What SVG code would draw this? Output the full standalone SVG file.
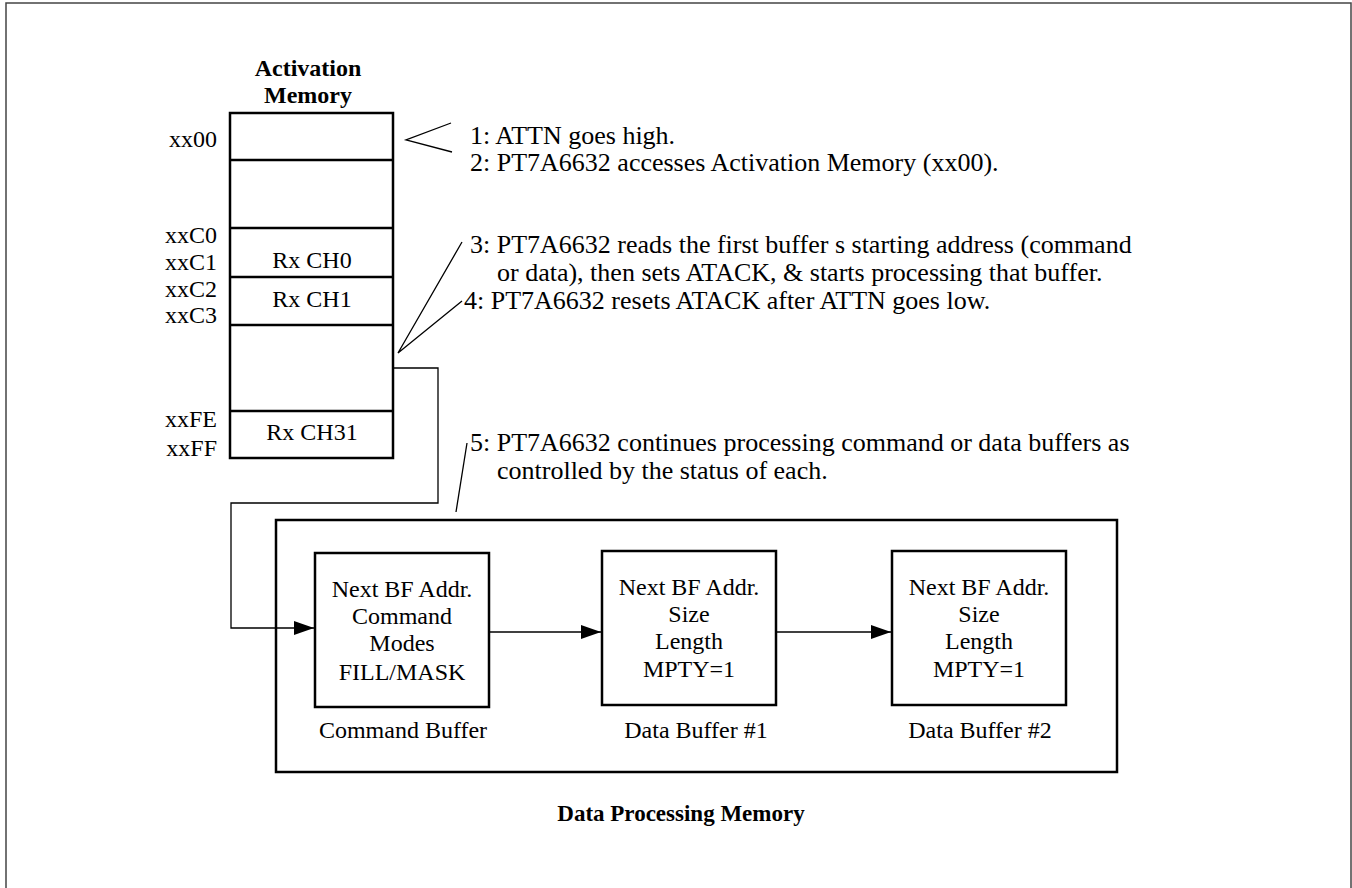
<svg xmlns="http://www.w3.org/2000/svg" width="1352" height="888" viewBox="0 0 1352 888">
<defs>
<marker id="arr" markerWidth="20" markerHeight="14" refX="20" refY="7" orient="auto" markerUnits="userSpaceOnUse">
<path d="M0,0 L20,7 L0,14 Z" fill="#000"/>
</marker>
<style>
text{font-family:"Liberation Serif","Times New Roman",serif;fill:#000}
.t24{font-size:24px}
.t26{font-size:26px}
.b{font-weight:bold;font-size:24px}
.mid{text-anchor:middle}
.end{text-anchor:end}
.thick{fill:none;stroke:#000;stroke-width:2.5}
.thin{fill:none;stroke:#000;stroke-width:1.3}
</style>
</defs>
<rect x="6" y="3" width="1345" height="900" fill="#fff" stroke="#444" stroke-width="1.5"/>

<g id="activation-memory">
<text class="b mid" x="308" y="76">Activation</text>
<text class="b mid" x="308" y="103">Memory</text>
<rect class="thick" x="230" y="113" width="163" height="345"/>
<line class="thick" x1="230" y1="160" x2="393" y2="160"/>
<line class="thick" x1="230" y1="228" x2="393" y2="228"/>
<line class="thick" x1="230" y1="277" x2="393" y2="277"/>
<line class="thick" x1="230" y1="325" x2="393" y2="325"/>
<line class="thick" x1="230" y1="411" x2="393" y2="411"/>
<text class="t24 end" x="217" y="147">xx00</text>
<text class="t24 end" x="217" y="243">xxC0</text>
<text class="t24 end" x="217" y="270">xxC1</text>
<text class="t24 end" x="217" y="297">xxC2</text>
<text class="t24 end" x="217" y="323">xxC3</text>
<text class="t24 end" x="217" y="427">xxFE</text>
<text class="t24 end" x="217" y="456">xxFF</text>
<text class="t24 mid" x="312" y="268">Rx CH0</text>
<text class="t24 mid" x="312" y="307">Rx CH1</text>
<text class="t24 mid" x="312" y="440">Rx CH31</text>
</g>

<g id="annotations">
<polyline class="thin" points="451,123 406,140 452,152"/>
<text class="t26" x="470" y="144">1: ATTN goes high.</text>
<text class="t26" x="470" y="171">2: PT7A6632 accesses Activation Memory (xx00).</text>
<polyline class="thin" points="462,242 398,353 462,301"/>
<text class="t26" x="470" y="253">3: PT7A6632 reads the first buffer s starting address (command</text>
<text class="t26" x="497" y="281">or data), then sets ATACK, &amp; starts processing that buffer.</text>
<text class="t26" x="464" y="309">4: PT7A6632 resets ATACK after ATTN goes low.</text>
<line class="thin" x1="467" y1="443" x2="456" y2="512"/>
<text class="t26" x="470" y="451">5: PT7A6632 continues processing command or data buffers as</text>
<text class="t26" x="497" y="479">controlled by the status of each.</text>
</g>

<g id="data-processing-memory">
<rect class="thick" x="276" y="520" width="841" height="252"/>
<text class="b mid" x="681" y="821" style="font-size:23px">Data Processing Memory</text>
</g>

<g id="command-buffer">
<rect class="thick" x="315" y="553" width="174" height="154"/>
<text class="t24 mid" x="402" y="597">Next BF Addr.</text>
<text class="t24 mid" x="402" y="624">Command</text>
<text class="t24 mid" x="402" y="651">Modes</text>
<text class="t24 mid" x="402" y="680">FILL/MASK</text>
<text class="t24 mid" x="403" y="738">Command Buffer</text>
</g>

<g id="data-buffer-1">
<rect class="thick" x="602" y="551" width="174" height="154"/>
<text class="t24 mid" x="689" y="595">Next BF Addr.</text>
<text class="t24 mid" x="689" y="622">Size</text>
<text class="t24 mid" x="689" y="649">Length</text>
<text class="t24 mid" x="689" y="677">MPTY=1</text>
<text class="t24 mid" x="696" y="738">Data Buffer #1</text>
</g>

<g id="data-buffer-2">
<rect class="thick" x="892" y="551" width="174" height="154"/>
<text class="t24 mid" x="979" y="595">Next BF Addr.</text>
<text class="t24 mid" x="979" y="622">Size</text>
<text class="t24 mid" x="979" y="649">Length</text>
<text class="t24 mid" x="979" y="677">MPTY=1</text>
<text class="t24 mid" x="980" y="738">Data Buffer #2</text>
</g>

<g id="connectors">
<polyline class="thin" points="393,368 438,368 438,503 231,503 231,628 314,628" marker-end="url(#arr)"/>
<line class="thin" x1="489" y1="632" x2="601" y2="632" marker-end="url(#arr)"/>
<line class="thin" x1="776" y1="632" x2="891" y2="632" marker-end="url(#arr)"/>
</g>
</svg>
